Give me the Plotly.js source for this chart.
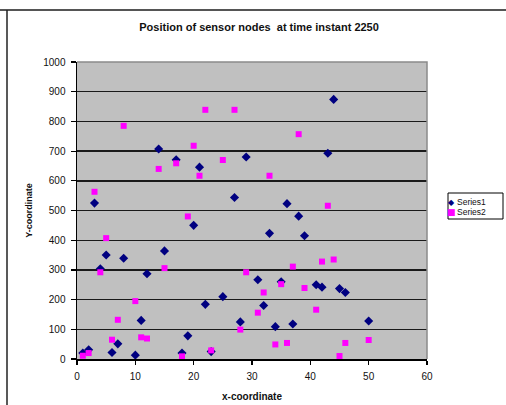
<!DOCTYPE html>
<html>
<head>
<meta charset="utf-8">
<script src="https://cdn.plot.ly/plotly-3.0.1.min.js"></script>
<style>
  html, body { margin: 0; padding: 0; background: #fff; }
  #chart { width: 506px; height: 405px; }
</style>
</head>
<body>
<div id="chart"></div>
<script>
// ---- data ----
const series1X = [1, 2, 3, 4, 5, 6, 7, 8, 10, 11, 12, 14, 15, 17, 18, 19, 20, 21, 22, 23,
                  25, 27, 28, 29, 31, 32, 33, 34, 35, 36, 37, 38, 39, 41, 42, 43, 44, 45, 46, 50];
const series1Y = [20, 31, 525, 304, 350, 22, 51, 339, 13, 130, 287, 707, 364, 671, 20, 78, 450, 646, 184, 25,
                  210, 544, 125, 680, 267, 180, 423, 109, 260, 523, 118, 481, 415, 250, 242, 693, 874, 237, 224, 128];

const series2X = [1, 2, 3, 4, 5, 6, 7, 8, 10, 11, 12, 14, 15, 17, 18, 19, 20, 21, 22, 23,
                  25, 27, 28, 29, 31, 32, 33, 34, 35, 36, 37, 38, 39, 41, 42, 43, 44, 45, 46, 50];
const series2Y = [11, 20, 563, 292, 407, 65, 132, 785, 195, 73, 69, 640, 306, 659, 9, 480, 718, 617, 839, 29,
                  670, 839, 99, 292, 156, 224, 617, 49, 252, 54, 311, 757, 239, 166, 328, 516, 335, 10, 54, 64];

const seriesNames = ['Series1', 'Series2'];
const titleText = 'Position of sensor nodes  at time instant 2250';
const xTitle = 'x-coordinate';
const yTitle = 'Y-coordinate';

// ---- layout geometry ----
const W = 506, H = 405;
const M = { l: 77, r: 79, t: 62, b: 46 };
const PW = W - M.l - M.r, PH = H - M.t - M.b;
const px2x = p => (p - M.l) / PW;
const px2y = p => (H - M.b - p) / PH;

const FONT = 'Liberation Sans, Arial, sans-serif';
const TXT = '#111';

const traces = [
  { x: series1X, y: series1Y, name: seriesNames[0], type: 'scatter', mode: 'markers',
    marker: { symbol: 'diamond', size: 7, color: '#000080' } },
  { x: series2X, y: series2Y, name: seriesNames[1], type: 'scatter', mode: 'markers',
    marker: { symbol: 'square', size: 6, color: '#ff00ff' } }
];

const layout = {
  width: W, height: H,
  margin: M,
  paper_bgcolor: '#fff',
  plot_bgcolor: '#c0c0c0',
  showlegend: false,
  font: { family: FONT, color: TXT, size: 10 },
  title: { text: titleText, font: { family: FONT, size: 11, weight: 'bold', color: TXT },
           xref: 'container', x: 0.512, xanchor: 'center', yref: 'container', y: 1 - 27 / H, yanchor: 'middle' },
  xaxis: {
    range: [0, 60], dtick: 10, tick0: 0,
    showgrid: false, zeroline: false,
    showline: true, linecolor: '#000', linewidth: 1.5,
    ticks: 'outside', ticklen: 4, tickwidth: 1.2, tickcolor: '#000',
    ticklabelstandoff: 3,
    tickfont: { family: FONT, size: 10, color: TXT },
    title: { text: xTitle, font: { family: FONT, size: 10, weight: 'bold', color: TXT }, standoff: 12 }
  },
  yaxis: {
    range: [0, 1000], dtick: 100, tick0: 0,
    showgrid: true, gridcolor: '#1a1a1a', gridwidth: 1.4,
    zeroline: false,
    showline: true, linecolor: '#000', linewidth: 1.5,
    ticks: 'outside', ticklen: 5, tickwidth: 1.2, tickcolor: '#000',
    ticklabelstandoff: 3,
    tickfont: { family: FONT, size: 10, color: TXT },
    title: { text: yTitle, font: { family: FONT, size: 9, weight: 'bold', color: TXT }, standoff: 9 }
  },
  shapes: [
    // gray top/right plot border
    { type: 'path', xref: 'paper', yref: 'paper', path: 'M0,1 L1,1 L1,0',
      line: { color: '#8a8a8a', width: 1.5 }, layer: 'above' },
    // outer frame (top and left)
    { type: 'line', xref: 'paper', yref: 'paper', x0: px2x(-2), x1: px2x(W + 2), y0: px2y(10), y1: px2y(10),
      line: { color: '#555', width: 2 } },
    { type: 'line', xref: 'paper', yref: 'paper', x0: px2x(7), x1: px2x(7), y0: px2y(10), y1: px2y(H + 2),
      line: { color: '#222', width: 1.5 } },
    // legend box
    { type: 'rect', xref: 'paper', yref: 'paper', x0: px2x(448), x1: px2x(503), y0: px2y(193), y1: px2y(219),
      line: { color: '#000', width: 1 }, fillcolor: '#fff' }
  ],
  annotations: [
    { xref: 'paper', yref: 'paper', x: px2x(451), y: px2y(202), text: '◆', showarrow: false,
      xanchor: 'center', yanchor: 'middle', font: { family: 'DejaVu Sans', size: 8, color: '#000080' } },
    { xref: 'paper', yref: 'paper', x: px2x(451), y: px2y(212), text: '■', showarrow: false,
      xanchor: 'center', yanchor: 'middle', font: { family: 'DejaVu Sans', size: 9, color: '#ff00ff' } },
    { xref: 'paper', yref: 'paper', x: px2x(455), y: px2y(202), text: seriesNames[0], showarrow: false,
      xanchor: 'left', yanchor: 'middle', font: { family: FONT, size: 8.5, color: TXT } },
    { xref: 'paper', yref: 'paper', x: px2x(455), y: px2y(212), text: seriesNames[1], showarrow: false,
      xanchor: 'left', yanchor: 'middle', font: { family: FONT, size: 8.5, color: TXT } }
  ]
};

Plotly.newPlot('chart', traces, layout, { displayModeBar: false, staticPlot: true });
</script>
</body>
</html>
